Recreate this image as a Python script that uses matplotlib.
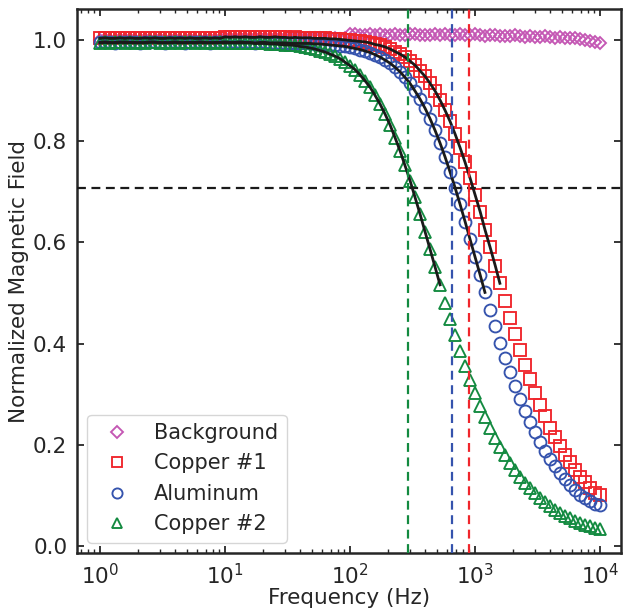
import matplotlib
matplotlib.use("Agg")
import matplotlib.pyplot as plt

# frequency sweep (Hz), 25 points per decade
freq = [
    1.0, 1.1, 1.2, 1.32, 1.45, 1.58, 1.74, 1.91, 2.09, 2.29, 2.51, 2.75, 3.02,
    3.31, 3.63, 3.98, 4.37, 4.79, 5.25, 5.75, 6.31, 6.92, 7.59, 8.32, 9.12,
    10, 11, 12, 13.2, 14.5, 15.8, 17.4, 19.1, 20.9, 22.9, 25.1, 27.5, 30.2,
    33.1, 36.3, 39.8, 43.7, 47.9, 52.5, 57.5, 63.1, 69.2, 75.9, 83.2, 91.2,
    100, 110, 120, 132, 145, 158, 174, 191, 209, 229, 251, 275, 302,
    331, 363, 398, 437, 479, 525, 575, 631, 692, 759, 832, 912,
    1000, 1100, 1200, 1320, 1450, 1580, 1740, 1910, 2090, 2290, 2510, 2750, 3020,
    3310, 3630, 3980, 4370, 4790, 5250, 5750, 6310, 6920, 7590, 8320, 9120,
    10000,
]

background = [
    0.999, 1.001, 1.000, 0.999, 1.001, 1.000, 1.001, 0.999, 1.000, 1.001, 1.000, 0.999, 1.001,
    1.000, 1.000, 1.001, 0.999, 1.000, 1.001, 1.000, 1.000, 0.999, 1.001, 1.000, 1.001,
    1.004, 1.003, 1.002, 1.004, 1.003, 1.002, 1.004, 1.003, 1.003, 1.002, 1.004, 1.003, 1.002,
    1.003, 1.004, 1.003, 1.002, 1.004, 1.003, 1.003, 1.002, 1.004, 1.003, 1.002, 1.004,
    1.011, 1.012, 1.010, 1.009, 1.011, 1.010, 1.012, 1.009, 1.010, 1.011, 1.010, 1.009, 1.011,
    1.012, 1.010, 1.009, 1.010, 1.011, 1.010, 1.012, 1.009, 1.010, 1.011, 1.010, 1.009,
    1.011, 1.010, 1.008, 1.010, 1.009, 1.008, 1.008, 1.007, 1.009, 1.007, 1.006, 1.008, 1.006,
    1.005, 1.007, 1.005, 1.004, 1.006, 1.004, 1.003, 1.004, 1.002, 0.999, 0.998, 0.996,
    0.994,
]

copper1 = [
    1.003, 1.004, 1.003, 1.003, 1.004, 1.003, 1.004, 1.003, 1.003, 1.004, 1.003, 1.004, 1.003,
    1.003, 1.004, 1.003, 1.004, 1.003, 1.004, 1.003, 1.003, 1.004, 1.003, 1.004, 1.003,
    1.006, 1.005, 1.006, 1.005, 1.006, 1.005, 1.005, 1.006, 1.005, 1.005, 1.006, 1.005, 1.005,
    1.004, 1.005, 1.004, 1.004, 1.004, 1.003, 1.003, 1.003, 1.002, 1.002, 1.001, 1.000,
    0.999, 0.998, 0.997, 0.996, 0.994, 0.991, 0.989, 0.986, 0.982, 0.977, 0.972, 0.966, 0.958,
    0.950, 0.939, 0.928, 0.914, 0.899, 0.881, 0.861, 0.839, 0.814, 0.787, 0.758, 0.727,
    0.694, 0.660, 0.625, 0.590, 0.554, 0.519, 0.484, 0.450, 0.418, 0.387, 0.357, 0.329, 0.303,
    0.279, 0.256, 0.234, 0.215, 0.197, 0.180, 0.165, 0.150, 0.137, 0.126, 0.115, 0.105,
    0.101,
]

aluminum = [
    0.995, 0.996, 0.995, 0.994, 0.995, 0.996, 0.995, 0.995, 0.994, 0.995, 0.996, 0.995, 0.995,
    0.994, 0.995, 0.996, 0.995, 0.994, 0.995, 0.995, 0.996, 0.995, 0.994, 0.995, 0.995,
    0.996, 0.995, 0.995, 0.996, 0.995, 0.995, 0.994, 0.995, 0.995, 0.994, 0.994, 0.994, 0.994,
    0.993, 0.993, 0.993, 0.993, 0.993, 0.992, 0.992, 0.991, 0.990, 0.989, 0.988, 0.987,
    0.985, 0.983, 0.981, 0.978, 0.975, 0.971, 0.966, 0.960, 0.954, 0.946, 0.937, 0.926, 0.914,
    0.899, 0.883, 0.865, 0.844, 0.821, 0.796, 0.769, 0.739, 0.708, 0.675, 0.641, 0.606,
    0.571, 0.535, 0.501, 0.467, 0.434, 0.402, 0.372, 0.343, 0.316, 0.291, 0.267, 0.245, 0.225,
    0.206, 0.188, 0.172, 0.158, 0.144, 0.132, 0.120, 0.110, 0.100, 0.094, 0.088, 0.083,
    0.081,
]

copper2 = [
    0.994, 0.995, 0.994, 0.995, 0.996, 0.994, 0.995, 0.994, 0.995, 0.994, 0.995, 0.996, 0.994,
    0.995, 0.994, 0.995, 0.994, 0.995, 0.995, 0.994, 0.995, 0.994, 0.995, 0.994, 0.995,
    0.994, 0.994, 0.994, 0.994, 0.994, 0.994, 0.993, 0.993, 0.993, 0.992, 0.992, 0.991, 0.990,
    0.990, 0.989, 0.987, 0.986, 0.984, 0.982, 0.979, 0.976, 0.972, 0.968, 0.963, 0.956,
    0.949, 0.941, 0.931, 0.919, 0.906, 0.891, 0.873, 0.853, 0.832, 0.807, 0.781, 0.752, 0.722,
    0.689, 0.656, 0.621, 0.586, 0.551, 0.516, 0.481, 0.448, 0.416, 0.385, 0.355, 0.328,
    0.302, 0.277, 0.254, 0.233, 0.214, 0.196, 0.179, 0.164, 0.150, 0.137, 0.125, 0.114, 0.104,
    0.095, 0.087, 0.079, 0.072, 0.066, 0.060, 0.055, 0.050, 0.046, 0.042, 0.039, 0.036,
    0.034,
]

# number of points each fit line covers (from 1 Hz upward)
fit_len = {"Copper #1": 81, "Aluminum": 78, "Copper #2": 69}

# cutoff frequencies (Hz) marked with vertical lines
cutoffs = {"Copper #1": 890, "Aluminum": 655, "Copper #2": 293}
half_power = 0.707

colors = {
    "Background": "#c457b4",
    "Copper #1": "#f0262c",
    "Aluminum": "#3553ad",
    "Copper #2": "#138a40",
}
markers = {"Background": ("D", 6.6), "Copper #1": ("s", 8.2),
           "Aluminum": ("o", 8.6), "Copper #2": ("^", 9.0)}
series = [("Background", background), ("Copper #1", copper1),
          ("Aluminum", aluminum), ("Copper #2", copper2)]

text_color = "#262626"
plt.rcParams.update({
    "font.family": "DejaVu Sans",
    "text.color": text_color,
    "axes.labelcolor": text_color,
    "xtick.color": text_color,
    "ytick.color": text_color,
    "axes.edgecolor": text_color,
})

fig = plt.figure(figsize=(6.23, 6.10), dpi=100)
ax = fig.add_axes([0.1236, 0.0934, 0.8732, 0.8918])

for name, vals in series:
    m, ms = markers[name]
    ax.plot(freq, vals, linestyle="none", marker=m, markersize=ms,
            markerfacecolor="none", markeredgecolor=colors[name],
            markeredgewidth=1.35, label=name)

# fitted curves in black over the low-frequency part
for name, vals in series[1:]:
    n = fit_len[name]
    ax.plot(freq[:n], vals[:n], color="#1a1a1a", lw=2.0, zorder=3)

ax.axhline(half_power, color="#1a1a1a", lw=1.6, ls=(0, (4, 2.5)), zorder=4)
for name in ["Copper #2", "Aluminum", "Copper #1"]:
    ax.axvline(cutoffs[name], color=colors[name], lw=1.6, ls=(0, (4, 2.5)), zorder=4)

ax.set_xscale("log")
ax.set_xlim(0.655, 14700)
ax.set_ylim(-0.014, 1.061)
ax.set_yticks([0.0, 0.2, 0.4, 0.6, 0.8, 1.0])

ax.set_xlabel("Frequency (Hz)", fontsize=15.5, labelpad=0)
ax.set_ylabel("Normalized Magnetic Field", fontsize=15.5, labelpad=3)

for s in ax.spines.values():
    s.set_linewidth(1.8)
ax.tick_params(which="both", direction="in", top=True, right=True, labelsize=15.5)
ax.tick_params(which="major", length=5, width=1.3, pad=7)
ax.tick_params(which="minor", length=3, width=1.0)

leg = ax.legend(loc="lower left", fontsize=15, frameon=True, fancybox=True,
                markerscale=0.85)
leg.get_frame().set_edgecolor("#cccccc")

fig.savefig("out.png", dpi=100)
